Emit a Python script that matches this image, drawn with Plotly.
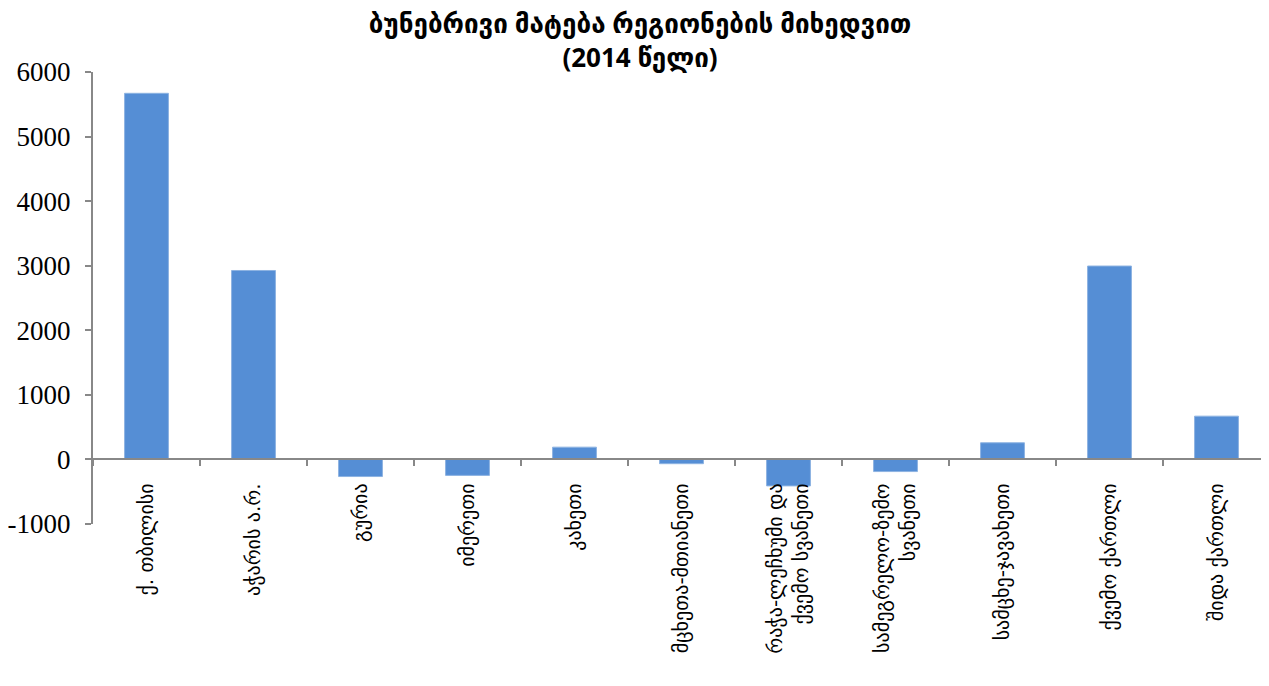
import plotly.graph_objects as go

categories = [
    "ქ. თბილისი",
    "აჭარის ა.რ.",
    "გურია",
    "იმერეთი",
    "კახეთი",
    "მცხეთა-მთიანეთი",
    "რაჭა-ლეჩხუმი და<br>ქვემო სვანეთი",
    "სამეგრელო-ზემო<br>სვანეთი",
    "სამცხე-ჯავახეთი",
    "ქვემო ქართლი",
    "შიდა ქართლი",
]
values = [5670, 2926, -265, -247, 190, -66, -410, -188, 258, 2995, 670]
y_tick_vals = [-1000, 0, 1000, 2000, 3000, 4000, 5000, 6000]
y_tick_text = [str(v) for v in y_tick_vals]
title_lines = ["ბუნებრივი მატება რეგიონების მიხედვით", "(2014 წელი)"]

y_min, y_max = -1000, 6000

W, H = 1262, 678

fig = go.Figure(
    go.Bar(
        x=categories,
        y=values,
        marker=dict(color="#558ED5", line=dict(color="#8DB3E2", width=1)),
        width=0.41,
    )
)

fig.update_layout(
    width=W,
    height=H,
    paper_bgcolor="white",
    plot_bgcolor="white",
    margin=dict(l=85, r=0, t=64, b=162),
    showlegend=False,
    title=dict(
        text="<b>" + "<br>".join(title_lines) + "</b>",
        x=632 / W,
        xanchor="center",
        xref="container",
        yref="container",
        y=1 - 25 / H,
        yanchor="middle",
        automargin=False,
        font=dict(family="Open Sans, DejaVu Sans", size=26, color="black"),
    ),
    xaxis=dict(
        type="category",
        anchor="free",
        position=(0 - y_min) / (y_max - y_min),
        automargin=False,
        showline=True,
        linecolor="#888888",
        linewidth=2,
        ticks="outside",
        tickson="boundaries",
        ticklen=6,
        tickcolor="#888888",
        tickwidth=2,
        tickangle=-90,
        ticklabelstandoff=15,
        tickfont=dict(family="DejaVu Sans", size=20, color="black"),
        showgrid=False,
    ),
    yaxis=dict(
        range=[y_min, y_max],
        tickvals=y_tick_vals,
        ticktext=y_tick_text,
        automargin=False,
        showline=True,
        linecolor="#888888",
        linewidth=2,
        ticks="outside",
        ticklen=6,
        tickcolor="#888888",
        tickwidth=2,
        ticklabelstandoff=9,
        tickfont=dict(family="Liberation Serif", size=27, color="black"),
        showgrid=False,
        zeroline=False,
    ),
)

fig.write_html("out.html")
